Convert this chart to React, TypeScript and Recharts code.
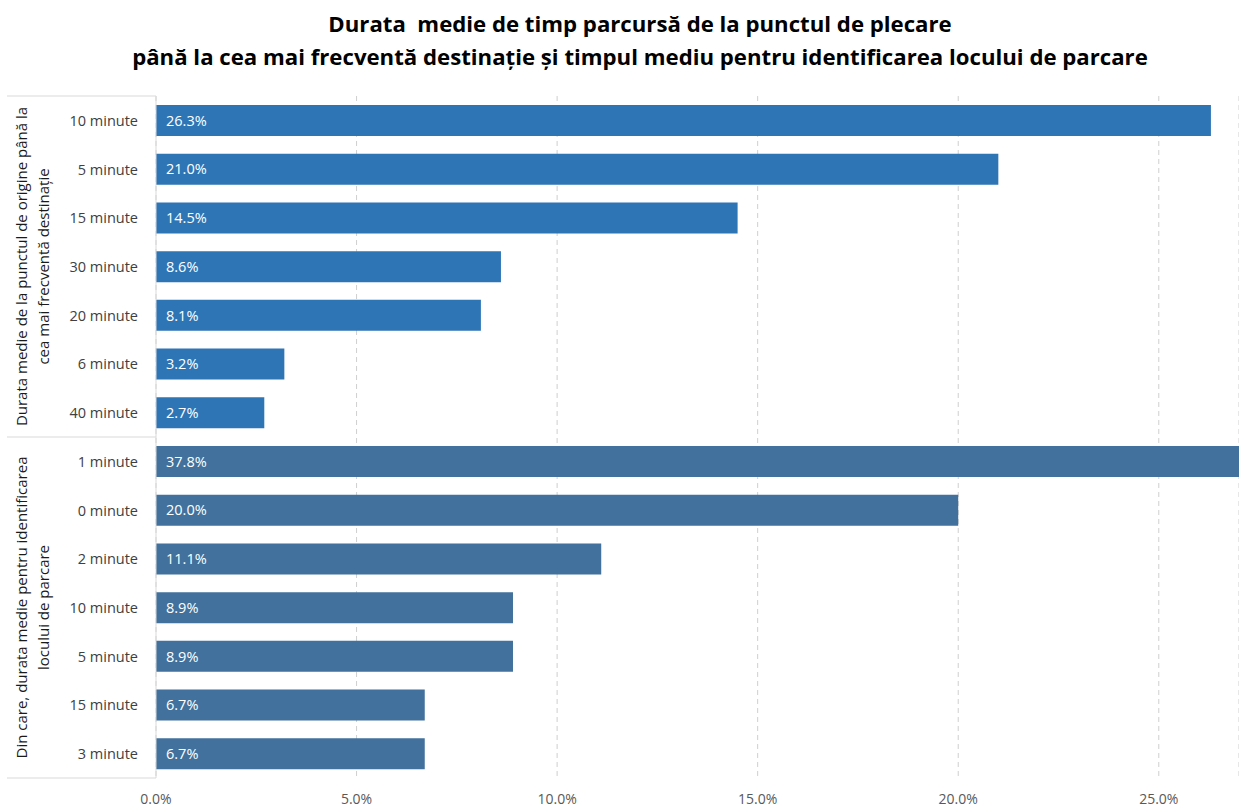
import { BarChart, Bar, XAxis, YAxis, CartesianGrid, Cell, LabelList } from 'recharts';

const durationLabels = ['10 minute', '5 minute', '15 minute', '30 minute', '20 minute', '6 minute', '40 minute'];
const durationValues = [26.3, 21.0, 14.5, 8.6, 8.1, 3.2, 2.7];
const parkingLabels = ['1 minute', '0 minute', '2 minute', '10 minute', '5 minute', '15 minute', '3 minute'];
const parkingValues = [37.8, 20.0, 11.1, 8.9, 8.9, 6.7, 6.7];
const groupTitles = [
  ['Durata medie de la punctul de origine până la', 'cea mai frecventă destinație'],
  ['Din care, durata medie pentru  identificarea', 'locului de parcare'],
];
const groupColors = ['#2E75B6', '#41719C'];
const xTicks = [0, 5, 10, 15, 20, 25];
const titleLines = [
  'Durata  medie de timp parcursă de la punctul de plecare',
  'până la cea mai frecventă destinație și timpul mediu pentru identificarea locului de parcare',
];

const rows = [
  ...durationLabels.map((label, i) => ({ id: `d${i}`, label, value: durationValues[i], group: 0 })),
  ...parkingLabels.map((label, i) => ({ id: `p${i}`, label, value: parkingValues[i], group: 1 })),
];

const W = 1239;
const H = 809;
const TOP = 96;
const X_AXIS_H = 31;
const Y_AXIS_W = 156;
const BAND = (H - TOP - X_AXIS_H) / rows.length;
const FONT = '"Open Sans", sans-serif';
const pct = (v: number) => `${v.toFixed(1)}%`;

function CategoryTick(props: any) {
  const { x, y, index } = props;
  const row = rows[index];
  if (!row) return null;
  const groupSize = durationLabels.length;
  const pos = index % groupSize;
  const lineColor = '#D9D9D9';
  return (
    <g>
      <text x={x} y={y} textAnchor="end" dominantBaseline="central" fontSize={14.5} fill="#404040" fontFamily={FONT}>
        {row.label}
      </text>
      {pos === 0 && <line x1={7} x2={Y_AXIS_W} y1={y - BAND / 2} y2={y - BAND / 2} stroke={lineColor} />}
      {index === rows.length - 1 && <line x1={7} x2={Y_AXIS_W} y1={y + BAND / 2} y2={y + BAND / 2} stroke={lineColor} />}
      {pos === 3 && (
        <text transform={`translate(30, ${y}) rotate(-90)`} textAnchor="middle" fontSize={15} fill="#1a1a1a" fontFamily={FONT}>
          <tspan x={0} dy="-0.2em">{groupTitles[row.group][0]}</tspan>
          <tspan x={0} dy="1.45em">{groupTitles[row.group][1]}</tspan>
        </text>
      )}
    </g>
  );
}

export default function App() {
  return (
    <div style={{ position: 'absolute', left: 0, top: 0, width: W, height: H, background: '#fff', fontFamily: FONT }}>
      <div style={{ position: 'absolute', left: 0, top: 7, width: 1280, textAlign: 'center', fontWeight: 700, fontSize: 22.2, lineHeight: '33px', color: '#000', whiteSpace: 'pre' }}>
        {titleLines.map((t) => (
          <div key={t}>{t}</div>
        ))}
      </div>
      <BarChart
        width={W}
        height={H}
        data={rows}
        layout="vertical"
        margin={{ top: TOP, right: 0, bottom: 0, left: 0 }}
      >
        <CartesianGrid horizontal={false} stroke="#CFCFCF" strokeDasharray="5 4" />
        <XAxis
          type="number"
          domain={[0, 27]}
          ticks={xTicks}
          allowDataOverflow
          tickFormatter={pct}
          axisLine={false}
          tickLine={false}
          height={X_AXIS_H}
          tickMargin={10}
          tick={{ fontSize: 14, fill: '#595959', fontFamily: FONT }}
        />
        <YAxis
          type="category"
          dataKey="id"
          width={Y_AXIS_W}
          interval={0}
          tickLine={false}
          axisLine={{ stroke: '#D9D9D9' }}
          tickMargin={12}
          tick={<CategoryTick />}
        />
        <Bar dataKey="value" barSize={31} isAnimationActive={false}>
          {rows.map((r) => (
            <Cell key={r.id} fill={groupColors[r.group]} />
          ))}
          <LabelList dataKey="value" position="insideLeft" offset={10} formatter={(v: any) => pct(Number(v))} fill="#fff" fontSize={14.5} fontFamily={FONT} />
        </Bar>
      </BarChart>
    </div>
  );
}
